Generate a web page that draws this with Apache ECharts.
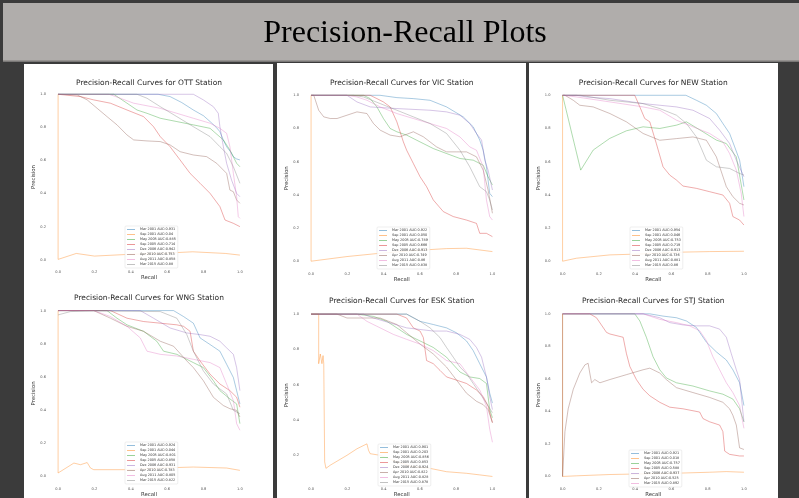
<!DOCTYPE html>
<html><head><meta charset="utf-8">
<script src="https://cdn.jsdelivr.net/npm/echarts@6/dist/echarts.min.js"></script>
<style>html,body{margin:0;padding:0;background:#3b3b3b}#c{width:799px;height:498px}</style>
</head><body><div id="c"></div><script>
// ---------- DATA (recall, precision) ----------
const tickValues = [0, 0.2, 0.4, 0.6, 0.8, 1.0];
const stations = ['OTT', 'VIC', 'NEW', 'WNG', 'ESK', 'STJ'];

const ottLabels = ['Mar 2001 AUC:0.931','Sep 2001 AUC:0.04','May 2005 AUC:0.885','Sep 2005 AUC:0.714','Dec 2006 AUC:0.942','Apr 2010 AUC:0.753','Aug 2011 AUC:0.858','Mar 2015 AUC:0.88'];
const ottMar2001 = [[0,1],[0.55,1],[0.616,0.986],[0.68,0.95],[0.744,0.905],[0.8,0.87],[0.836,0.835],[0.87,0.8],[0.89,0.774],[0.91,0.72],[0.927,0.683],[0.95,0.65],[0.964,0.623],[0.98,0.61],[1,0.603]];
const ottSep2001 = [[0,1],[0,0.002],[0.1,0.038],[0.2,0.022],[0.38,0.032],[0.56,0.038],[0.74,0.048],[0.92,0.038],[1,0.028]];
const ottMay2005 = [[0,1],[0.306,1],[0.379,0.946],[0.434,0.905],[0.489,0.885],[0.562,0.855],[0.653,0.835],[0.744,0.815],[0.836,0.794],[0.909,0.724],[0.945,0.663],[0.982,0.583],[1,0.562]];
const ottSep2005 = [[0,1],[0.123,0.986],[0.196,0.966],[0.288,0.946],[0.379,0.905],[0.47,0.865],[0.525,0.804],[0.562,0.744],[0.616,0.683],[0.671,0.603],[0.726,0.522],[0.781,0.462],[0.836,0.401],[0.89,0.321],[0.918,0.24],[0.964,0.22],[1,0.2]];
const ottDec2006 = [[0,1],[0.744,1],[0.799,0.966],[0.854,0.925],[0.881,0.885],[0.89,0.804],[0.909,0.683],[0.927,0.583],[0.954,0.482],[0.982,0.401],[1,0.381]];
const ottApr2010 = [[0,1],[0.105,0.996],[0.16,0.966],[0.215,0.915],[0.269,0.865],[0.324,0.815],[0.379,0.754],[0.416,0.724],[0.489,0.718],[0.562,0.714],[0.616,0.694],[0.671,0.653],[0.744,0.633],[0.817,0.623],[0.872,0.583],[0.927,0.522],[0.945,0.421],[0.964,0.411],[0.982,0.361],[1,0.341]];
const ottAug2011 = [[0,1],[0.28,1],[0.342,0.976],[0.416,0.946],[0.562,0.915],[0.653,0.885],[0.744,0.855],[0.836,0.825],[0.89,0.794],[0.927,0.764],[0.945,0.683],[0.964,0.522],[0.982,0.381],[0.991,0.26],[1,0.25]];
const ottMar2015 = [[0,1],[0.434,1],[0.489,0.976],[0.562,0.925],[0.653,0.865],[0.744,0.804],[0.836,0.744],[0.89,0.683],[0.927,0.643],[0.964,0.562],[1,0.462]];

const vicLabels = ['Mar 2001 AUC:0.922','Sep 2001 AUC:0.050','May 2005 AUC:0.789','Sep 2005 AUC:0.666','Dec 2006 AUC:0.913','Apr 2010 AUC:0.749','Aug 2011 AUC:0.86','Mar 2015 AUC:0.838'];
const vicMar2001 = [[0,1],[0.38,1],[0.473,0.986],[0.564,0.98],[0.656,0.97],[0.747,0.93],[0.839,0.87],[0.894,0.81],[0.93,0.73],[0.949,0.669],[0.967,0.569],[0.985,0.409],[1,0.389]];
const vicSep2001 = [[0,1],[0,0],[0.198,0.028],[0.381,0.048],[0.564,0.064],[0.747,0.076],[0.857,0.078],[1,0.058]];
const vicMay2005 = [[0,1],[0.289,1],[0.326,0.98],[0.363,0.93],[0.399,0.86],[0.436,0.8],[0.473,0.78],[0.527,0.76],[0.601,0.719],[0.674,0.679],[0.747,0.649],[0.821,0.619],[0.894,0.609],[0.949,0.579],[0.976,0.509],[1,0.459]];
const vicSep2005 = [[0,1],[0.326,1],[0.363,0.98],[0.399,0.96],[0.436,0.93],[0.473,0.84],[0.509,0.719],[0.527,0.669],[0.564,0.589],[0.601,0.509],[0.637,0.449],[0.674,0.369],[0.729,0.299],[0.784,0.269],[0.857,0.248],[0.912,0.228],[0.93,0.168],[0.967,0.168],[1,0.148]];
const vicDec2006 = [[0,1],[0.198,1],[0.253,0.96],[0.326,0.93],[0.473,0.92],[0.656,0.91],[0.747,0.9],[0.821,0.88],[0.875,0.83],[0.912,0.77],[0.94,0.73],[0.958,0.609],[0.976,0.549],[1,0.429]];
const vicApr2010 = [[0,1],[0.015,1],[0.024,0.97],[0.042,0.91],[0.07,0.87],[0.106,0.86],[0.143,0.86],[0.198,0.88],[0.253,0.9],[0.308,0.89],[0.344,0.83],[0.381,0.79],[0.436,0.76],[0.491,0.75],[0.564,0.78],[0.619,0.75],[0.692,0.689],[0.747,0.659],[0.802,0.659],[0.857,0.659],[0.912,0.629],[0.949,0.549],[0.976,0.429],[1,0.289]];
const vicAug2011 = [[0,1],[0.198,1],[0.253,0.99],[0.308,0.97],[0.381,0.93],[0.473,0.89],[0.564,0.86],[0.656,0.83],[0.747,0.8],[0.821,0.749],[0.875,0.689],[0.912,0.669],[0.949,0.569],[0.967,0.369],[0.985,0.269],[1,0.248]];
const vicMar2015 = [[0,1],[0.234,1],[0.289,0.99],[0.381,0.95],[0.473,0.91],[0.564,0.87],[0.656,0.83],[0.747,0.77],[0.821,0.669],[0.875,0.569],[0.93,0.449],[0.967,0.419],[0.985,0.369],[1,0.309]];

const newLabels = ['Mar 2001 AUC:0.954','Sep 2001 AUC:0.046','May 2005 AUC:0.753','Sep 2005 AUC:0.719','Dec 2006 AUC:0.913','Apr 2010 AUC:0.736','Aug 2011 AUC:0.881','Mar 2015 AUC:0.86'];
const newMar2001 = [[0,1],[0.68,1],[0.738,0.97],[0.793,0.94],[0.848,0.89],[0.884,0.83],[0.921,0.77],[0.949,0.689],[0.976,0.609],[0.99,0.52],[1,0.449]];
const newSep2001 = [[0,1],[0,0],[0.077,0.018],[0.261,0.038],[0.444,0.044],[0.628,0.054],[0.811,0.058],[1,0.06]];
const newMay2005 = [[0,1],[0.1,0.549],[0.169,0.67],[0.26,0.74],[0.352,0.786],[0.444,0.81],[0.536,0.8],[0.628,0.82],[0.683,0.84],[0.774,0.78],[0.848,0.73],[0.903,0.709],[0.958,0.629],[1,0.369]];
const newSep2005 = [[0,1],[0.398,1],[0.426,0.93],[0.453,0.86],[0.481,0.84],[0.517,0.709],[0.554,0.569],[0.591,0.519],[0.628,0.489],[0.664,0.453],[0.738,0.439],[0.811,0.419],[0.884,0.399],[0.921,0.349],[0.939,0.269],[0.976,0.248],[1,0.218]];
const newDec2006 = [[0,1],[0.077,1],[0.132,0.99],[0.261,0.98],[0.444,0.95],[0.628,0.93],[0.719,0.91],[0.811,0.86],[0.866,0.79],[0.921,0.709],[0.958,0.609],[1,0.509]];
const newApr2010 = [[0,1],[0.013,1],[0.059,0.97],[0.095,0.94],[0.169,0.93],[0.261,0.89],[0.352,0.84],[0.444,0.77],[0.536,0.729],[0.628,0.739],[0.719,0.749],[0.793,0.729],[0.848,0.629],[0.903,0.449],[0.939,0.389],[0.976,0.349],[1,0.339]];
const newAug2011 = [[0,1],[0.077,0.99],[0.261,0.96],[0.444,0.93],[0.536,0.91],[0.628,0.85],[0.719,0.81],[0.811,0.77],[0.884,0.719],[0.921,0.649],[0.958,0.549],[0.985,0.409],[1,0.269]];
const newMar2015 = [[0,1],[0.1,1],[0.261,0.97],[0.444,0.95],[0.536,0.92],[0.628,0.88],[0.683,0.83],[0.738,0.749],[0.793,0.609],[0.848,0.569],[0.921,0.559],[0.976,0.529],[1,0.519]];

const wngLabels = ['Mar 2001 AUC:0.924','Sep 2001 AUC:0.044','May 2005 AUC:0.801','Sep 2005 AUC:0.858','Dec 2006 AUC:0.931','Apr 2010 AUC:0.783','Aug 2011 AUC:0.805','Mar 2015 AUC:0.822'];
const wngMar2001 = [[0,1],[0.635,1],[0.69,0.964],[0.744,0.924],[0.781,0.835],[0.836,0.795],[0.89,0.755],[0.927,0.676],[0.964,0.596],[0.982,0.517],[1,0.437]];
const wngSep2001 = [[0,1],[0,0.02],[0.087,0.08],[0.123,0.07],[0.16,0.083],[0.178,0.05],[0.196,0.04],[0.379,0.04],[0.562,0.05],[0.744,0.056],[0.927,0.05],[1,0.036]];
const wngMay2005 = [[0,1],[0.269,1],[0.324,0.954],[0.379,0.914],[0.47,0.875],[0.543,0.815],[0.58,0.755],[0.653,0.736],[0.744,0.686],[0.799,0.656],[0.854,0.577],[0.89,0.517],[0.945,0.467],[0.982,0.437],[1,0.318]];
const wngSep2005 = [[0,1],[0.288,1],[0.379,0.954],[0.47,0.934],[0.562,0.924],[0.653,0.914],[0.69,0.905],[0.726,0.875],[0.744,0.755],[0.781,0.696],[0.836,0.616],[0.89,0.557],[0.945,0.517],[0.982,0.477],[1,0.417]];
const wngDec2006 = [[0,1],[0.452,1],[0.525,0.954],[0.616,0.895],[0.708,0.865],[0.781,0.855],[0.836,0.845],[0.89,0.815],[0.927,0.775],[0.964,0.736],[0.982,0.656],[1,0.517]];
const wngApr2010 = [[0,1],[0.196,1],[0.288,0.954],[0.379,0.905],[0.47,0.875],[0.562,0.815],[0.635,0.785],[0.708,0.696],[0.744,0.656],[0.799,0.577],[0.854,0.477],[0.909,0.427],[0.945,0.408],[0.982,0.398],[1,0.358]];
const wngAug2011 = [[0,1],[0.196,1],[0.288,0.964],[0.379,0.905],[0.452,0.835],[0.489,0.755],[0.562,0.736],[0.653,0.726],[0.744,0.706],[0.836,0.686],[0.89,0.656],[0.927,0.557],[0.964,0.457],[0.982,0.318],[1,0.278]];
const wngMar2015 = [[0,0.974],[0.068,0.994],[0.196,0.998],[0.562,0.994],[0.653,0.954],[0.708,0.855],[0.744,0.755],[0.799,0.636],[0.854,0.557],[0.927,0.497],[0.964,0.398],[1,0.378]];

const eskLabels = ['Mar 2001 AUC:0.901','Sep 2001 AUC:0.203','May 2005 AUC:0.856','Sep 2005 AUC:0.853','Dec 2006 AUC:0.924','Apr 2010 AUC:0.822','Aug 2011 AUC:0.828','Mar 2015 AUC:0.878'];
const eskMar2001 = [[0,1],[0.527,1],[0.601,0.959],[0.674,0.941],[0.747,0.922],[0.802,0.894],[0.857,0.848],[0.894,0.793],[0.93,0.719],[0.967,0.644],[0.985,0.552],[1,0.496]];
const eskSep2001 = [[0,1],[0.042,1],[0.042,0.719],[0.051,0.774],[0.06,0.719],[0.066,0.765],[0.07,0.719],[0.075,0.163],[0.082,0.126],[0.106,0.144],[0.198,0.2],[0.253,0.237],[0.308,0.265],[0.317,0.228],[0.326,0.209],[0.381,0.2],[0.473,0.163],[0.564,0.135],[0.656,0.126],[0.747,0.107],[0.857,0.098],[0.93,0.089],[1,0.08]];
const eskMay2005 = [[0,1],[0.253,1],[0.344,0.987],[0.418,0.959],[0.473,0.922],[0.527,0.885],[0.601,0.848],[0.674,0.811],[0.747,0.756],[0.821,0.672],[0.875,0.644],[0.93,0.635],[0.967,0.607],[0.985,0.459],[1,0.413]];
const eskSep2005 = [[0,1],[0.473,1],[0.527,0.978],[0.564,0.922],[0.601,0.904],[0.619,0.867],[0.637,0.737],[0.674,0.719],[0.711,0.681],[0.747,0.644],[0.802,0.626],[0.857,0.607],[0.912,0.57],[0.949,0.533],[0.976,0.478],[1,0.385]];
const eskDec2006 = [[0,1],[0.289,1],[0.344,0.978],[0.436,0.95],[0.527,0.922],[0.601,0.913],[0.674,0.904],[0.747,0.904],[0.821,0.885],[0.875,0.857],[0.912,0.811],[0.94,0.756],[0.967,0.644],[0.985,0.533],[1,0.459]];
const eskApr2010 = [[0,1],[0.143,1],[0.198,0.978],[0.289,0.978],[0.381,0.978],[0.473,0.941],[0.527,0.894],[0.601,0.83],[0.674,0.774],[0.747,0.7],[0.802,0.626],[0.857,0.552],[0.912,0.506],[0.949,0.487],[0.976,0.459],[1,0.385]];
const eskAug2011 = [[0,1],[0.253,1],[0.308,0.959],[0.381,0.922],[0.454,0.885],[0.527,0.857],[0.601,0.83],[0.674,0.793],[0.747,0.737],[0.821,0.719],[0.875,0.644],[0.93,0.57],[0.967,0.478],[0.985,0.348],[1,0.274]];
const eskMar2015 = [[0,1],[0.527,1],[0.601,0.959],[0.656,0.922],[0.711,0.867],[0.747,0.811],[0.784,0.756],[0.821,0.7],[0.857,0.663],[0.894,0.607],[0.93,0.552],[0.967,0.496],[1,0.441]];

const stjLabels = ['Mar 2001 AUC:0.921','Sep 2001 AUC:0.018','May 2005 AUC:0.757','Sep 2005 AUC:0.588','Dec 2006 AUC:0.937','Apr 2010 AUC:0.525','Mar 2015 AUC:0.892'];
const stjMar2001 = [[0,1],[0.481,1],[0.554,0.986],[0.628,0.976],[0.683,0.956],[0.738,0.916],[0.793,0.826],[0.848,0.766],[0.903,0.716],[0.939,0.656],[0.976,0.576],[1,0.436]];
const stjSep2001 = [[0,1],[0,0],[0.077,0.004],[0.261,0.012],[0.444,0.016],[0.628,0.02],[0.811,0.026],[0.903,0.03],[1,0.026]];
const stjMay2005 = [[0,1],[0.398,1],[0.426,0.956],[0.462,0.856],[0.499,0.736],[0.536,0.656],[0.572,0.606],[0.628,0.576],[0.719,0.556],[0.811,0.526],[0.884,0.506],[0.939,0.476],[0.976,0.416],[1,0.336]];
const stjSep2005 = [[0,1],[0.15,1],[0.187,0.976],[0.242,0.886],[0.261,0.876],[0.334,0.856],[0.352,0.756],[0.371,0.676],[0.407,0.596],[0.444,0.536],[0.481,0.496],[0.536,0.456],[0.591,0.426],[0.664,0.416],[0.756,0.396],[0.774,0.356],[0.811,0.336],[0.866,0.316],[0.884,0.276],[0.894,0.156],[0.921,0.136],[0.976,0.126],[1,0.126]];
const stjDec2006 = [[0,1],[0.444,1],[0.536,0.976],[0.591,0.946],[0.664,0.932],[0.738,0.926],[0.811,0.926],[0.866,0.906],[0.903,0.856],[0.93,0.756],[0.958,0.656],[0.976,0.596],[1,0.336]];
const stjApr2010 = [[0,1],[0,0],[0.013,0.276],[0.031,0.416],[0.059,0.536],[0.095,0.636],[0.123,0.686],[0.141,0.696],[0.15,0.636],[0.16,0.576],[0.178,0.596],[0.206,0.576],[0.261,0.596],[0.352,0.626],[0.444,0.656],[0.481,0.666],[0.536,0.636],[0.572,0.596],[0.628,0.546],[0.719,0.516],[0.811,0.486],[0.884,0.456],[0.921,0.416],[0.939,0.376],[0.958,0.316],[0.976,0.176],[1,0.166]];
const stjMar2015 = [[0,1],[0.444,1],[0.536,0.966],[0.628,0.946],[0.701,0.926],[0.756,0.896],[0.793,0.836],[0.829,0.736],[0.866,0.656],[0.903,0.576],[0.939,0.516],[0.976,0.436],[1,0.296]];

const stationLabels = [ottLabels, vicLabels, newLabels, wngLabels, eskLabels, stjLabels];
const stationCurves = [
  [ottMar2001, ottSep2001, ottMay2005, ottSep2005, ottDec2006, ottApr2010, ottAug2011, ottMar2015],
  [vicMar2001, vicSep2001, vicMay2005, vicSep2005, vicDec2006, vicApr2010, vicAug2011, vicMar2015],
  [newMar2001, newSep2001, newMay2005, newSep2005, newDec2006, newApr2010, newAug2011, newMar2015],
  [wngMar2001, wngSep2001, wngMay2005, wngSep2005, wngDec2006, wngApr2010, wngAug2011, wngMar2015],
  [eskMar2001, eskSep2001, eskMay2005, eskSep2005, eskDec2006, eskApr2010, eskAug2011, eskMar2015],
  [stjMar2001, stjSep2001, stjMay2005, stjSep2005, stjDec2006, stjApr2010, stjMar2015]
];
const yRanges = [[-0.05,1.05],[-0.05,1.05],[-0.05,1.05],[-0.05,1.05],[0.034,1.046],[-0.05,1.05]];

// ---------- LAYOUT / STYLE ----------
const palette = ['#1f77b4','#ff7f0e','#2ca02c','#d62728','#9467bd','#8c564b','#e377c2','#7f7f7f'];
const grids = [
  {left:49, top:86, width:200, height:182},
  {left:302, top:87, width:199.5, height:182.5},
  {left:553.5, top:87, width:199.5, height:182.5},
  {left:49, top:302.3, width:200, height:184.4},
  {left:302, top:306, width:199.5, height:182},
  {left:553.5, top:305.7, width:199.5, height:183.6}
];
const titleY = [82.7, 82.7, 82.7, 298, 301, 301];
const legendPos = [[125,226],[377,227],[630,227],[125,442],[378,444],[629,450]];

const grid = [], xAxis = [], yAxis = [], series = [], legend = [];
const graphic = [
  {type:'rect', shape:{x:3, y:3, width:796, height:59}, style:{fill:'#b0adab'}, z:0},
  {type:'rect', shape:{x:3, y:60.5, width:796, height:1.5}, style:{fill:'#7a7877'}, z:0},
  {type:'rect', shape:{x:24, y:64, width:249, height:434}, style:{fill:'#ffffff'}, z:0},
  {type:'rect', shape:{x:277, y:63, width:249, height:435}, style:{fill:'#ffffff'}, z:0},
  {type:'rect', shape:{x:529, y:63, width:249, height:435}, style:{fill:'#ffffff'}, z:0},
  {type:'text', x:405, y:34, style:{text:'Precision-Recall Plots', fontFamily:'Liberation Serif', fontSize:32, fill:'#000', align:'center', verticalAlign:'middle'}, z:2}
];

stations.forEach((st, i) => {
  const g = grids[i];
  grid.push(Object.assign({show:true, borderColor:'#e6e6e6', borderWidth:0.8, backgroundColor:'transparent', containLabel:false}, g));
  graphic.push({type:'text', x:g.left + g.width/2, y:titleY[i],
    style:{text:'Precision-Recall Curves for ' + st + ' Station', fontFamily:'DejaVu Sans', fontSize:7.5, fill:'#262626', align:'center', verticalAlign:'middle'}, z:3});
  xAxis.push({type:'value', gridIndex:i, min:-0.05, max:1.05,
    axisLine:{show:false}, axisTick:{show:false}, splitLine:{show:false},
    axisLabel:{customValues:tickValues, formatter:v=>v.toFixed(1), fontSize:3.6, color:'#555', margin:2.5, fontFamily:'DejaVu Sans'},
    name:'Recall', nameLocation:'middle', nameGap:6.8, nameTextStyle:{fontSize:5.4, color:'#333', fontFamily:'DejaVu Sans'}});
  const yr = yRanges[i];
  yAxis.push({type:'value', gridIndex:i, min:yr[0], max:yr[1],
    axisLine:{show:false}, axisTick:{show:false}, splitLine:{show:false},
    axisLabel:{customValues:tickValues.filter(v=>v>=yr[0] && v<=yr[1]), formatter:v=>v.toFixed(1), fontSize:3.6, color:'#555', margin:3, fontFamily:'DejaVu Sans'},
    name:'Precision', nameLocation:'middle', nameGap:9, nameRotate:90, nameTextStyle:{fontSize:5.4, color:'#333', fontFamily:'DejaVu Sans'}});
  const labels = stationLabels[i];
  labels.forEach((nm, k) => {
    series.push({type:'line', name:nm, xAxisIndex:i, yAxisIndex:i, data:stationCurves[i][k],
      symbol:'none', showSymbol:false, animation:false, silent:true, clip:true,
      lineStyle:{width:0.7, color:palette[k], opacity:0.55}, itemStyle:{color:palette[k], opacity:0.55}, z:2});
  });
  legend.push({data:labels, orient:'vertical', left:legendPos[i][0], top:legendPos[i][1],
    icon:'rect', itemWidth:8, itemHeight:0.8, itemGap:1, padding:[1.5,2,1.5,2], backgroundColor:'rgba(255,255,255,0.85)',
    borderColor:'#dddddd', borderWidth:0.5, borderRadius:1, selectedMode:false, itemStyle:{opacity:0.6},
    textStyle:{fontSize:3.4, color:'#333', lineHeight:4, fontFamily:'DejaVu Sans'}});
});

const chart = echarts.init(document.getElementById('c'), null, {renderer:'canvas', width:799, height:498});
chart.setOption({backgroundColor:'#3b3b3b', animation:false, grid, xAxis, yAxis, series, legend, graphic});
</script></body></html>
